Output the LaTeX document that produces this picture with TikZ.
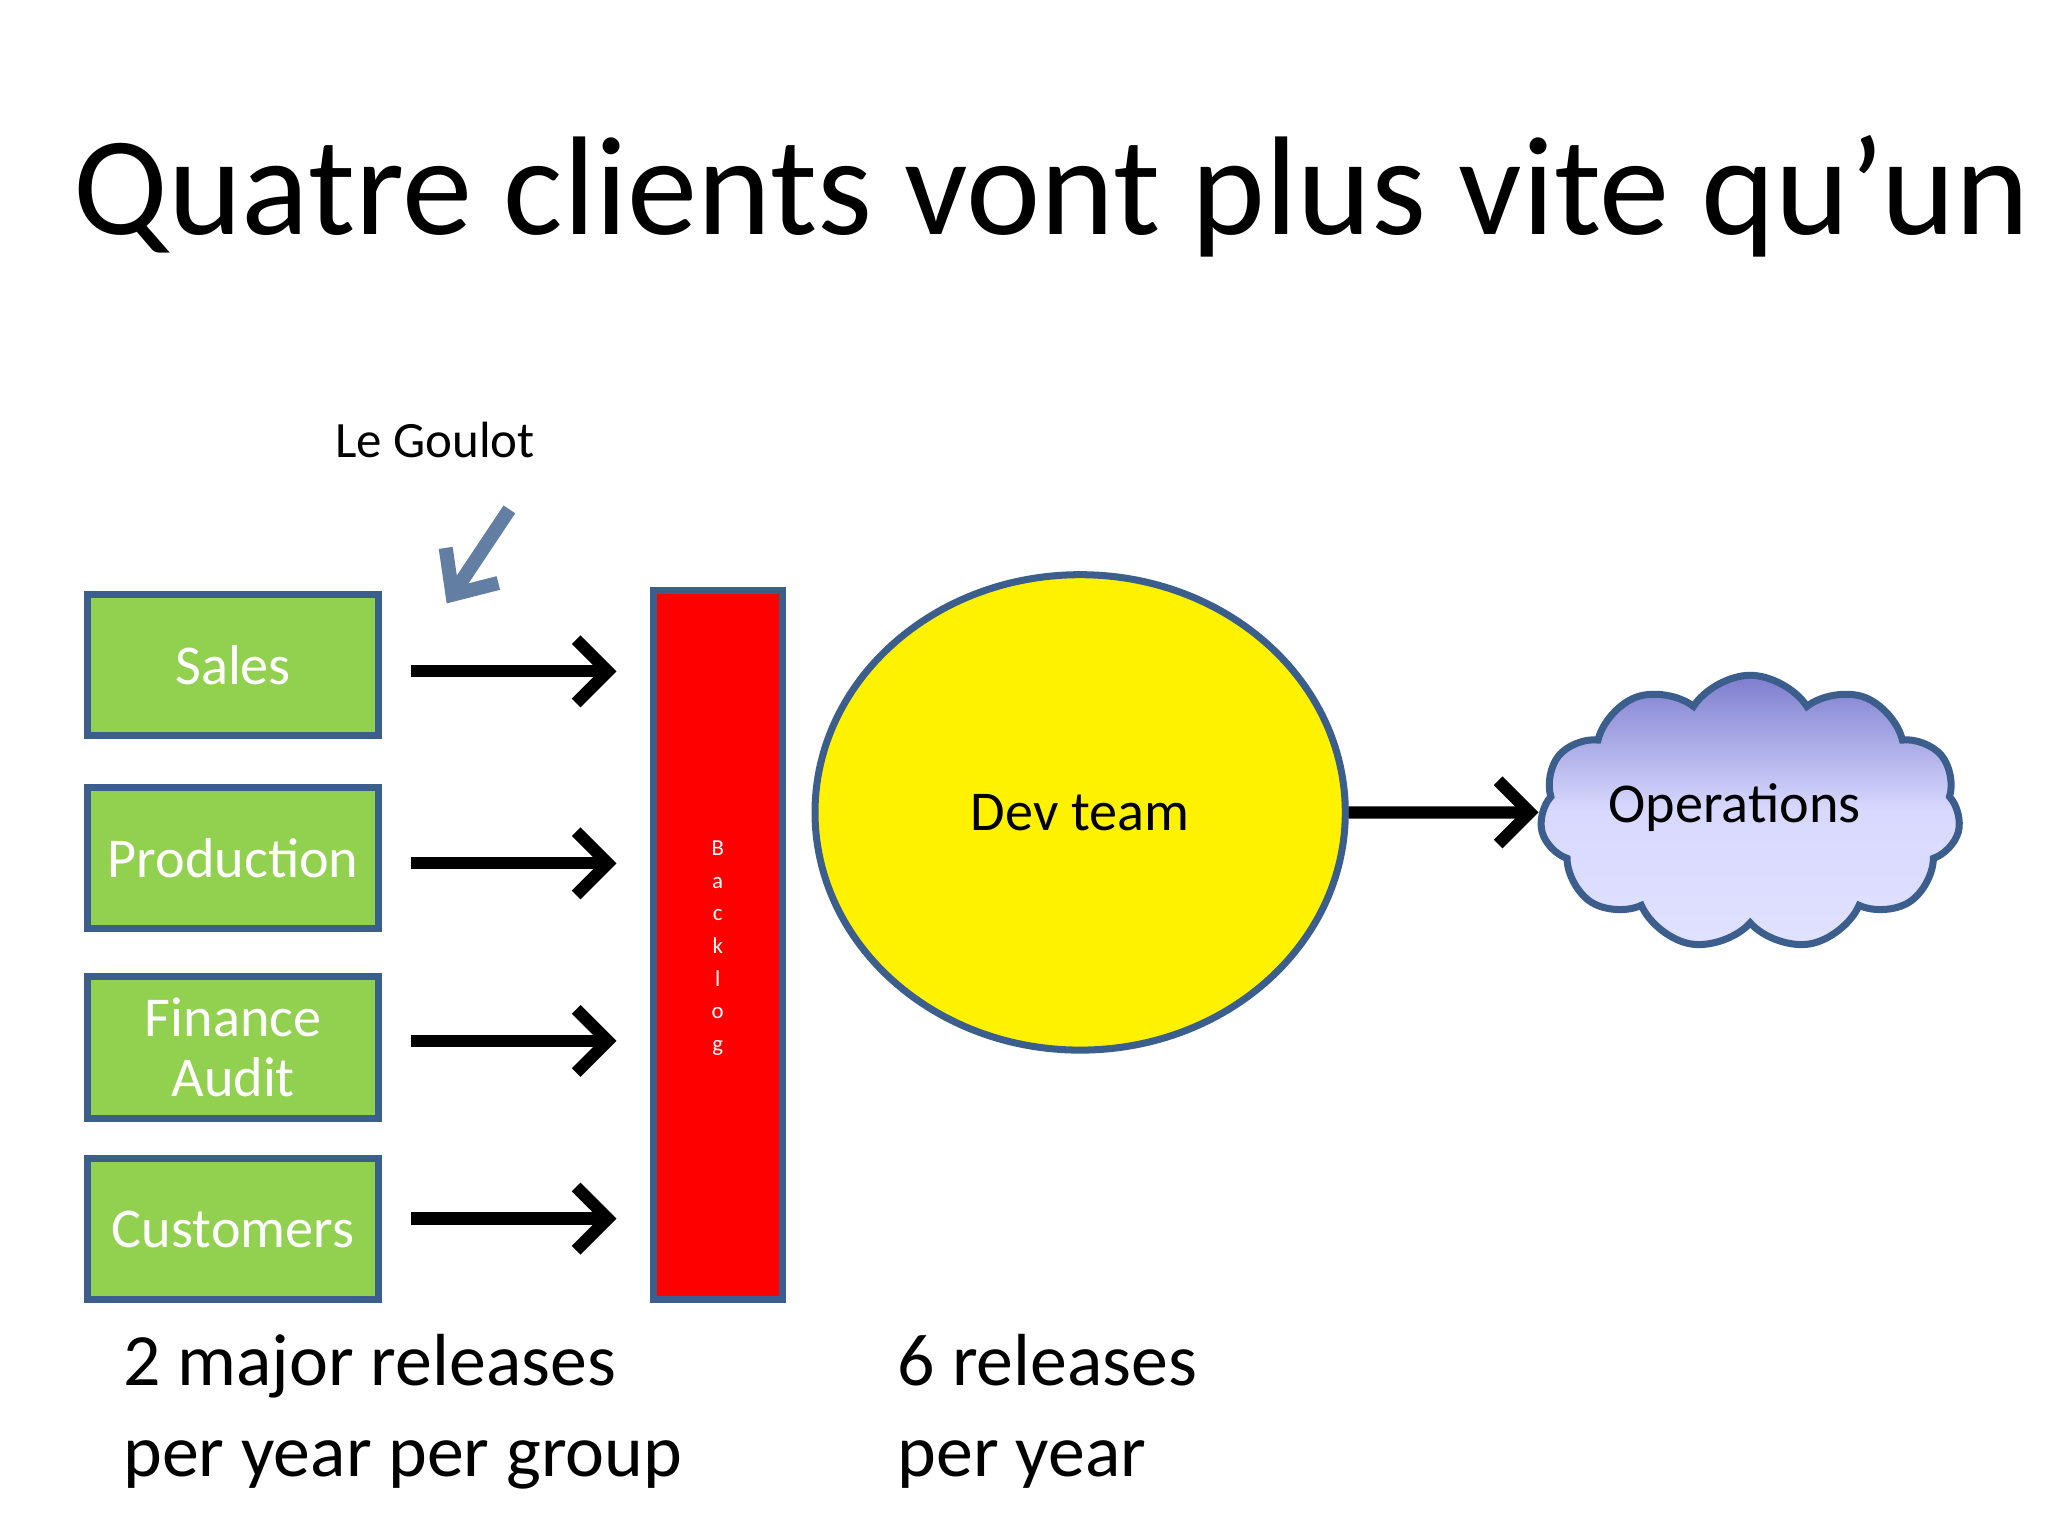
\documentclass[tikz,border=0pt]{standalone}
\usepackage{fontspec}
\setmainfont{Carlito}
\usetikzlibrary{shapes.symbols,shapes.geometric,arrows.meta}
\definecolor{grn}{HTML}{92D050}
\definecolor{bdr}{HTML}{3B5E8C}
\tikzset{
 grp/.style={draw=bdr,line width=2pt,fill=grn,minimum width=223*0.01306cm,minimum height=108*0.01306cm,text=white,font=\fontsize{16}{19}\selectfont,align=center},
 blk/.style={line width=3.5pt,-{Straight Barb[length=9pt,width=18pt,line width=3.5pt]}},
 big/.style={font=\fontsize{21}{26}\selectfont,align=left,anchor=north west}
}
\begin{document}
\begin{tikzpicture}[x=0.01306cm,y=-0.01306cm]
\useasboundingbox (0,0) rectangle (1568,1176);
\node (title) at (805,150) {\fontsize{40}{48}\selectfont Quatre clients vont plus vite qu’un};
\node (goulot) at (333,337) {\fontsize{14.5}{17}\selectfont Le Goulot};
\coordinate (ga) at (390,390); \coordinate (gb) at (342,462);
\draw[draw=bdr!80!white,line width=4pt,-{Straight Barb[length=10pt,width=18pt,line width=4pt]}] (ga) -- (gb);
\node[grp] (sales) at (178.5,509) {Sales};
\node[grp] (prod) at (178.5,657) {Production};
\node[grp] (fin) at (178.5,802) {Finance\\[-2pt]Audit};
\node[grp] (cust) at (178.5,941) {Customers};
\node[draw=bdr,line width=2pt,fill=red,minimum width=99*0.01306cm,minimum height=543*0.01306cm] (back) at (549.5,723.5) {};
\node[text=white,font=\fontsize{6.5}{9.3}\selectfont,align=center] (bl) at (549.5,726) {B\\a\\c\\k\\l\\o\\g};
\foreach \n/\y in {sales/514,prod/661,fin/797,cust/933}{
 \coordinate (s\n) at (315,\y); \coordinate (e\n) at (472,\y);
 \draw[blk] (s\n) -- (e\n);}
\node[draw=bdr,line width=2pt,fill=yellow,ellipse,inner sep=0pt,minimum width=406*0.01306cm,minimum height=364*0.01306cm,font=\fontsize{16}{19}\selectfont] (dev) at (827,622) {Dev team};
\node[cloud,cloud puffs=11,cloud puff arc=115,aspect=1.6,draw=bdr,line width=2pt,
 top color=blue!45!gray!70!white, bottom color=blue!12!white, middle color=blue!15!white,
 minimum width=322*0.01306cm,minimum height=210*0.01306cm] (ops) at (1340,622) {};
\node[font=\fontsize{16}{19}\selectfont] (opst) at (1328,618) {Operations};
\draw[blk] (dev.east) -- (ops.west);
\node[big] (r1) at (85,1012) {2 major releases\\per year per group};
\node[big] (r2) at (678,1012) {6 releases\\per year};
\end{tikzpicture}
\end{document}
